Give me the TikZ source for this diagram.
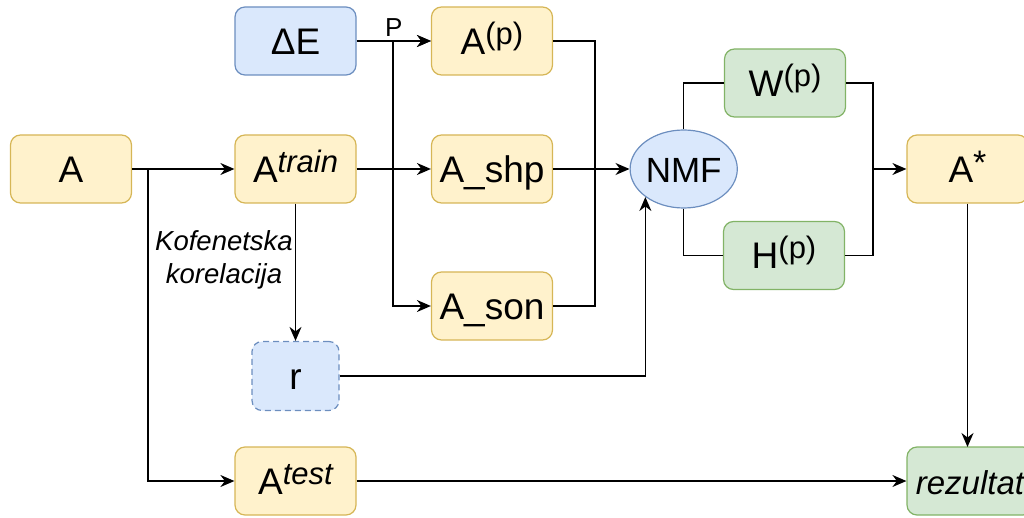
\documentclass[tikz,border=0pt]{standalone}
\usepackage{fontspec}
\setmainfont{Liberation Sans}
\usetikzlibrary{arrows.meta,shapes.geometric}
\definecolor{yelf}{HTML}{FFF2CC}
\definecolor{yeld}{HTML}{D6B656}
\definecolor{bluf}{HTML}{DAE8FC}
\definecolor{blud}{HTML}{6C8EBF}
\definecolor{grnf}{HTML}{D5E8D4}
\definecolor{grnd}{HTML}{82B366}
\newcommand\supx[1]{\raisebox{10pt}[0pt][0pt]{\fontsize{31}{32}\selectfont #1}}
\newcommand\starx{\raisebox{8pt}[0pt][0pt]{\fontsize{34}{34}\selectfont *}}
\begin{document}
\begin{tikzpicture}[x=1pt,y=-1pt,
  box/.style={draw, rounded corners=10pt, line width=1.2pt, minimum width=121pt,
    minimum height=68pt, inner sep=0pt, text height=27pt, text depth=0pt,
    font=\fontsize{37}{42}\selectfont},
  yel/.style={box, fill=yelf, draw=yeld},
  blu/.style={box, fill=bluf, draw=blud},
  grn/.style={box, fill=grnf, draw=grnd},
  conn/.style={line width=1.4pt, black},
  arr/.style={conn, -{Stealth[length=14pt,width=12pt,inset=4.5pt]}},
  lbl/.style={font=\fontsize{27.5}{33}\selectfont\itshape, align=center, inner sep=0pt},
]
\useasboundingbox (0,0) rectangle (1024,518);
% nodes
\node[yel] (A) at (71,169) {A};
\node[blu] (dE) at (295.5,41) {ΔE};
\node[yel] (Atr) at (295.5,169) {A\supx{\itshape train}};
\node[blu, dashed, dash pattern=on 6pt off 4pt, minimum width=87pt, minimum height=69pt] (r) at (295.5,376) {r};
\node[yel] (Ate) at (295.5,481) {A\supx{\itshape test}};
\node[yel] (Ap) at (492,41) {A\supx{(p)}};
\node[yel] (Ashp) at (492,169) {A\_shp};
\node[yel] (Ason) at (492,306) {A\_son};
\node[blu, ellipse, rounded corners=0pt, minimum width=104pt, minimum height=78pt, font=\fontsize{35}{40}\selectfont] (NMF) at (683.7,169) {NMF};
\node[grn] (W) at (785,83) {W\supx{(p)}};
\node[grn] (H) at (784,255.5) {H\supx{(p)}};
\node[yel] (As) at (967.5,169) {A\starx};
\node[grn, minimum width=126pt, font=\fontsize{33}{40}\selectfont\itshape] (rez) at (970,481) {rezultat};
\node[lbl] (kof) at (224,260) {Kofenetska\\korelacija};
% junctions
\coordinate (j1) at (148,169);
\coordinate (j2) at (393,169);
\coordinate (j3) at (595,169);
\coordinate (j4) at (873,169);
\coordinate (j5) at (967.5,447);
% connectors
\draw[arr] (A) -- (Atr);
\draw[arr] (j1) |- (Ate);
\draw[arr] (Atr) -- (Ashp);
\draw[arr] (dE) -- node[above=4pt, inner sep=0pt, font=\fontsize{26}{30}\selectfont] (P) {P} (Ap);
\draw[arr] (j2) |- (Ap);
\draw[arr] (j2) |- (Ason);
\draw[conn] (Ap) -| (j3);
\draw[conn] (Ason) -| (j3);
\draw[arr] (Ashp) -- (NMF);
\draw[arr] (Atr) -- (r);
\draw[arr] (r) -| (NMF.south west);
\draw[conn] (NMF) |- (W);
\draw[conn] (NMF) |- (H);
\draw[conn] (W) -| (j4);
\draw[conn] (H) -| (j4);
\draw[arr] (j4) -- (As);
\draw[arr] (As) -- (j5);
\draw[arr] (Ate) -- (rez);
\end{tikzpicture}
\end{document}
